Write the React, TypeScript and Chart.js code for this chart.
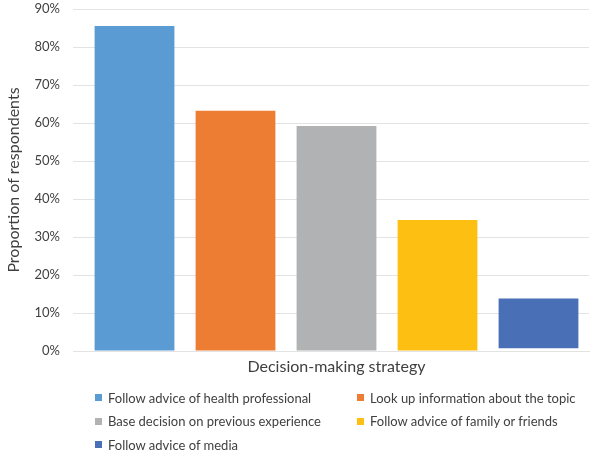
import React, { useEffect, useRef } from "react";
import { Chart, registerables } from "chart.js";

Chart.register(...registerables);

const categories = [
  "Follow advice of health professional",
  "Look up information about the topic",
  "Base decision on previous experience",
  "Follow advice of family or friends",
  "Follow advice of media",
];
const barStarts = [0, 0, 0, 0, 0.7];
const barEnds = [85.5, 63.2, 59.2, 34.5, 13.8];
const colors = ["#5B9BD3", "#ED7D32", "#B1B2B4", "#FDBF12", "#4970B6"];
const yTicks = [0, 10, 20, 30, 40, 50, 60, 70, 80, 90];
const xTitle = "Decision-making strategy";
const yTitle = "Proportion of respondents";

const FONT = "Lato, 'Noto Sans', sans-serif";
const TEXT = "#404040";
const GRID = "#E3E3E3";

export default function App() {
  const ref = useRef<HTMLCanvasElement | null>(null);

  useEffect(() => {
    document.body.style.margin = "0";
    if (!ref.current) return;
    const chart = new Chart(ref.current, {
      type: "bar",
      data: {
        labels: categories,
        datasets: [
          {
            data: barEnds.map((e, i) => [barStarts[i], e]) as any,
            backgroundColor: colors,
            borderWidth: 0,
            categoryPercentage: 1,
            barPercentage: 0.79,
          },
        ],
      },
      options: {
        animation: false,
        responsive: false,
        devicePixelRatio: 1,
        layout: { padding: { left: 0, right: 11, top: 9, bottom: 79 } },
        plugins: { legend: { display: false }, tooltip: { enabled: false } },
        scales: {
          x: {
            grid: { display: false },
            border: { display: true, color: GRID, width: 1 },
            ticks: { display: false },
            title: {
              display: true,
              text: xTitle,
              color: TEXT,
              font: { family: FONT, size: 16 },
              padding: 0,
            },
            afterFit: (s: any) => {
              s.height = 25;
              s.paddingLeft = 0;
              s.paddingRight = 0;
            },
          },
          y: {
            min: 0,
            max: 90,
            afterBuildTicks: (s: any) => {
              s.ticks = yTicks.map((v) => ({ value: v }));
            },
            grid: { color: GRID, lineWidth: 1, drawTicks: true, tickLength: 11, tickColor: GRID },
            border: { display: false },
            ticks: {
              color: TEXT,
              font: { family: FONT, size: 13 },
              padding: 13,
              callback: (v: any) => `${v}%`,
            },
            title: {
              display: true,
              text: yTitle,
              color: TEXT,
              font: { family: FONT, size: 16 },
              padding: { top: 4, bottom: 0 },
            },
            afterFit: (s: any) => {
              s.width = 84;
              s.paddingTop = 0;
              s.paddingBottom = 0;
            },
          },
        },
      },
    });
    return () => chart.destroy();
  }, []);

  const rows: number[][] = [];
  for (let i = 0; i < categories.length; i += 2) rows.push([i, i + 1].filter((j) => j < categories.length));

  return (
    <div style={{ position: "absolute", left: 0, top: 0, width: 600, height: 455, background: "#fff" }}>
      <canvas ref={ref} width={600} height={455} style={{ display: "block" }} />
      <div
        style={{
          position: "absolute",
          left: 95,
          top: 386,
          fontFamily: FONT,
          fontSize: 13,
          color: TEXT,
        }}
      >
        {rows.map((r, ri) => (
          <div key={ri} style={{ display: "flex", height: 23.5, alignItems: "center" }}>
            {r.map((j) => (
              <div key={j} style={{ width: 262, display: "flex", alignItems: "center" }}>
                <span style={{ width: 7, height: 7, background: colors[j], marginRight: 6, display: "inline-block" }} />
                <span style={{ whiteSpace: "nowrap" }}>{categories[j]}</span>
              </div>
            ))}
          </div>
        ))}
      </div>
    </div>
  );
}
